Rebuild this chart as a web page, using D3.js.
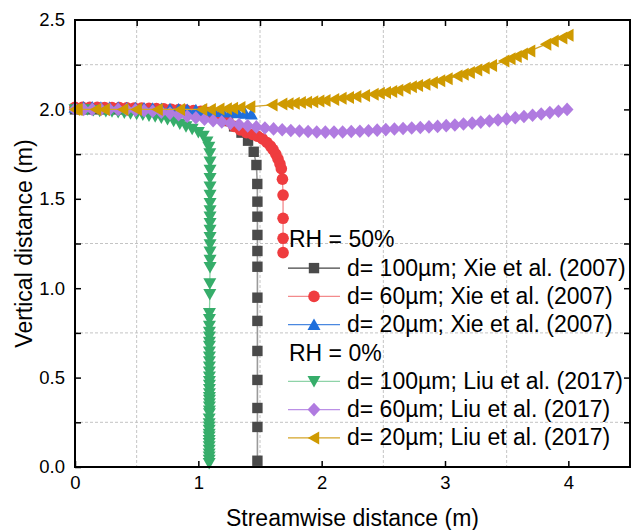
<!DOCTYPE html>
<html><head><meta charset="utf-8">
<script src="https://cdn.jsdelivr.net/npm/d3@7"></script>
<style>html,body{margin:0;padding:0;background:#fff;}svg{display:block;font-family:"Liberation Sans",Arial,sans-serif;}</style>
</head><body>
<svg id="c" width="631" height="530"></svg>
<script>
// ---- data ----
const xTicks = [0, 1, 2, 3, 4];
const yTicks = [0.0, 0.5, 1.0, 1.5, 2.0, 2.5];
const xGrid = [0.5, 1.5, 2.5, 3.5];
const yGrid = [0.25, 0.75, 1.25, 1.75, 2.25];
const xTopTicks = [0.5, 1, 1.5, 2, 2.5, 3, 3.5, 4];
const ySideTicks = [0.25, 0.5, 0.75, 1, 1.25, 1.5, 1.75, 2, 2.25];

const xie100 = [[0,2.0],[0.1,2.0],[0.2,2.0],[0.3,2.0],[0.4,2.0],[0.5,1.998],[0.6,1.996],[0.7,1.994],[0.8,1.99],[0.9,1.986],[1.0,1.98],[1.1,1.97],[1.18,1.955],[1.24,1.935],[1.29,1.905],[1.35,1.87],[1.403,1.825],[1.449,1.763],[1.471,1.689],[1.478,1.583],[1.479,1.484],[1.479,1.4],[1.479,1.298],[1.479,1.208],[1.479,1.12],[1.479,0.947],[1.479,0.817],[1.479,0.649],[1.479,0.487],[1.479,0.33],[1.479,0.224],[1.479,0.035]];
const xie60 = [[0,2.012],[0.06,2.012],[0.12,2.012],[0.18,2.012],[0.24,2.011],[0.3,2.01],[0.36,2.01],[0.42,2.009],[0.48,2.008],[0.54,2.007],[0.6,2.006],[0.66,2.005],[0.72,2.003],[0.78,2.001],[0.84,1.999],[0.9,1.996],[0.96,1.993],[1.02,1.989],[1.08,1.982],[1.14,1.972],[1.19,1.958],[1.24,1.935],[1.29,1.905],[1.34,1.885],[1.39,1.87],[1.44,1.86],[1.48,1.85],[1.52,1.835],[1.557,1.815],[1.585,1.795],[1.606,1.775],[1.628,1.75],[1.646,1.723],[1.662,1.695],[1.673,1.668],[1.682,1.61],[1.687,1.521],[1.687,1.391],[1.687,1.279],[1.687,1.199]];
const xie20 = [[0,2.01],[0.07,2.012],[0.14,2.012],[0.21,2.01],[0.28,2.01],[0.35,2.01],[0.42,2.008],[0.49,2.008],[0.56,2.006],[0.63,2.005],[0.7,2.003],[0.77,2.002],[0.84,2.0],[0.91,1.998],[0.98,1.996],[1.05,1.994],[1.12,1.99],[1.19,1.987],[1.26,1.984],[1.32,1.98],[1.38,1.977],[1.43,1.972]];
const liu100 = [[0,2.0],[0.05,2.0],[0.1,2.0],[0.15,1.995],[0.2,1.992],[0.25,1.99],[0.3,1.988],[0.35,1.985],[0.4,1.982],[0.45,1.978],[0.5,1.974],[0.55,1.97],[0.6,1.965],[0.65,1.96],[0.7,1.953],[0.75,1.945],[0.8,1.935],[0.85,1.92],[0.9,1.905],[0.95,1.89],[1.0,1.872],[1.04,1.852],[1.07,1.82],[1.085,1.79],[1.093,1.754],[1.095,1.707],[1.095,1.661],[1.095,1.615],[1.095,1.568],[1.095,1.522],[1.095,1.475],[1.095,1.435],[1.095,1.4],[1.095,1.363],[1.095,1.326],[1.095,1.285],[1.095,1.245],[1.095,1.204],[1.095,1.158],[1.095,1.117],[1.093,1.027],[1.093,0.966],[1.09,0.86],[1.09,0.826],[1.09,0.789],[1.09,0.755],[1.09,0.729],[1.09,0.7],[1.09,0.677],[1.09,0.645],[1.09,0.617],[1.09,0.59],[1.09,0.561],[1.09,0.533],[1.09,0.505],[1.09,0.48],[1.09,0.459],[1.09,0.435],[1.09,0.412],[1.09,0.39],[1.09,0.375],[1.09,0.355],[1.09,0.337],[1.09,0.315],[1.09,0.3],[1.088,0.27],[1.088,0.244],[1.088,0.225],[1.088,0.207],[1.088,0.185],[1.088,0.169],[1.088,0.15],[1.088,0.133],[1.088,0.115],[1.088,0.095],[1.088,0.075],[1.088,0.058],[1.088,0.04],[1.088,0.021]];
const liu60 = [[0,2.0],[0.07,2.0],[0.14,2.0],[0.21,2.0],[0.28,2.0],[0.35,2.0],[0.42,1.998],[0.49,1.996],[0.56,1.993],[0.63,1.99],[0.7,1.985],[0.77,1.978],[0.84,1.97],[0.91,1.962],[0.98,1.953],[1.05,1.945],[1.12,1.937],[1.19,1.93],[1.26,1.922],[1.33,1.915],[1.4,1.908],[1.47,1.902],[1.54,1.896],[1.61,1.891],[1.68,1.886],[1.75,1.882],[1.82,1.879],[1.89,1.876],[1.96,1.874],[2.03,1.873],[2.1,1.873],[2.17,1.874],[2.24,1.876],[2.31,1.878],[2.38,1.881],[2.45,1.884],[2.52,1.887],[2.59,1.89],[2.66,1.893],[2.73,1.896],[2.8,1.899],[2.87,1.902],[2.94,1.905],[3.01,1.909],[3.08,1.913],[3.15,1.918],[3.22,1.923],[3.29,1.929],[3.36,1.935],[3.43,1.941],[3.5,1.947],[3.57,1.953],[3.64,1.96],[3.71,1.967],[3.78,1.974],[3.85,1.982],[3.92,1.99],[3.99,2.0]];
const liu20 = [[0,2.0],[0.02,2.0],[0.17,2.0],[0.24,2.0],[0.39,2.0],[0.5,2.0],[0.67,2.0],[0.85,2.0],[1.03,2.0],[1.1,2.0],[1.17,2.002],[1.23,2.004],[1.28,2.006],[1.34,2.01],[1.42,2.015],[1.6,2.025],[1.68,2.03],[1.73,2.032],[1.78,2.035],[1.83,2.038],[1.88,2.04],[1.93,2.043],[1.98,2.047],[2.03,2.05],[2.1,2.056],[2.16,2.062],[2.22,2.067],[2.28,2.072],[2.35,2.078],[2.42,2.085],[2.47,2.09],[2.52,2.095],[2.57,2.1],[2.62,2.107],[2.68,2.118],[2.73,2.126],[2.78,2.133],[2.84,2.141],[2.9,2.15],[2.96,2.16],[3.02,2.171],[3.1,2.187],[3.15,2.197],[3.2,2.207],[3.26,2.22],[3.32,2.232],[3.38,2.245],[3.48,2.27],[3.53,2.283],[3.58,2.296],[3.63,2.31],[3.69,2.327],[3.82,2.365],[3.88,2.382],[3.95,2.4],[4.0,2.415]];

const seriesNames = ["d= 100\u00b5m; Xie et al. (2007)","d= 60\u00b5m; Xie et al. (2007)","d= 20\u00b5m; Xie et al. (2007)","d= 100\u00b5m; Liu et al. (2017)","d= 60\u00b5m; Liu et al. (2017)","d= 20\u00b5m; Liu et al. (2017)"];
const groupTitles = ["RH = 50%","RH = 0%"];

// ---- styles ----
const series = [
  {data:xie100, name:seriesNames[0], fill:"#4a4a4a", line:"#9a9a9a", lw:1.6, legLine:"#444444", sym:"square"},
  {data:xie60,  name:seriesNames[1], fill:"#ef3c3f", line:"#f38a8c", lw:1.3, legLine:"#f38a8c", sym:"circle"},
  {data:xie20,  name:seriesNames[2], fill:"#1f6fdc", line:"#4a88e0", lw:1.3, legLine:"#4a88e0", sym:"up"},
  {data:liu100, name:seriesNames[3], fill:"#36ad6a", line:"#8ed3a8", lw:1.3, legLine:"#8ed3a8", sym:"down"},
  {data:liu60,  name:seriesNames[4], fill:"#b07be0", line:"#bb90e6", lw:1.3, legLine:"#bb90e6", sym:"diamond"},
  {data:liu20,  name:seriesNames[5], fill:"#cf9a00", line:"#d4a427", lw:1.3, legLine:"#d4a427", sym:"left"}
];
const symPath = {
  square: "M-5.2,-5.2h10.4v10.4h-10.4Z",
  up: "M0,-6.3L6.5,5.2L-6.5,5.2Z",
  down: "M0,6.3L6.5,-5.2L-6.5,-5.2Z",
  left: "M-6.3,0L5.2,-6.5L5.2,6.5Z",
  diamond: "M0,-6.8L6.4,0L0,6.8L-6.4,0Z"
};

const svg = d3.select("#c");
const L = 75, R = 630, T = 20, B = 467;
const x = d3.scaleLinear().domain([0, 4.5]).range([L, R]);
const y = d3.scaleLinear().domain([0, 2.5]).range([B, T]);

// grid
const g = svg.append("g");
g.selectAll(".gx").data(xGrid).join("line")
  .attr("x1", d => x(d)).attr("x2", d => x(d)).attr("y1", T).attr("y2", B)
  .attr("stroke", "#c4c4c4").attr("stroke-width", 1).attr("stroke-dasharray", "3,2");
g.selectAll(".gy").data(yGrid).join("line")
  .attr("y1", d => y(d)).attr("y2", d => y(d)).attr("x1", L).attr("x2", R)
  .attr("stroke", "#c4c4c4").attr("stroke-width", 1).attr("stroke-dasharray", "3,2");

// axes via d3 axis generators
const fmtY = d3.format(".1f");
const axB = svg.append("g").attr("transform", `translate(0,${B})`)
  .call(d3.axisBottom(x).tickValues(xTicks).tickSize(-6).tickPadding(9).tickFormat(d3.format("d")));
const axT = svg.append("g").attr("transform", `translate(0,${T})`)
  .call(d3.axisTop(x).tickValues(xTopTicks).tickSize(-6).tickFormat(""));
const axL = svg.append("g").attr("transform", `translate(${L},0)`)
  .call(d3.axisLeft(y).tickValues(ySideTicks.concat([0])).tickSize(-6).tickPadding(10)
    .tickFormat(d => yTicks.includes(d) ? fmtY(d) : ""));
const axLab = svg.append("g").attr("transform", `translate(${L},0)`)
  .call(d3.axisLeft(y).tickValues([2.5]).tickSize(0).tickPadding(10).tickFormat(fmtY));
const axR = svg.append("g").attr("transform", `translate(${R},0)`)
  .call(d3.axisRight(y).tickValues(ySideTicks).tickSize(-6).tickFormat(""));
[axB, axT, axL, axLab, axR].forEach(a => {
  a.select(".domain").remove();
  a.selectAll("line").attr("stroke", "#000").attr("stroke-width", 1.5);
  a.selectAll("text").attr("fill", "#000").style("font-size", "18.5px")
    .style("font-family", '"Liberation Sans", Arial, sans-serif');
});

// series
const lineGen = d3.line().x(d => x(d[0])).y(d => y(d[1]));
const plot = svg.append("g");
series.forEach(s => {
  const sg = plot.append("g");
  sg.append("path").attr("d", lineGen(s.data)).attr("fill", "none")
    .attr("stroke", s.line).attr("stroke-width", s.lw);
  const m = sg.selectAll("g").data(s.data).join("g")
    .attr("transform", d => `translate(${x(d[0])},${y(d[1])})`);
  if (s.sym === "circle") m.append("circle").attr("r", 5.8).attr("fill", s.fill);
  else m.append("path").attr("d", symPath[s.sym]).attr("fill", s.fill);
});

// frame
svg.append("rect").attr("x", L).attr("y", T).attr("width", R - L).attr("height", B - T)
  .attr("fill", "none").attr("stroke", "#000").attr("stroke-width", 2);

// axis titles
svg.append("text").attr("x", (L + R) / 2).attr("y", 526).attr("text-anchor", "middle")
  .style("font-size", "23px").text("Streamwise distance (m)");
svg.append("text").attr("transform", `translate(32,${(T + B) / 2}) rotate(-90)`)
  .attr("text-anchor", "middle").style("font-size", "23px").text("Vertical distance (m)");

// legend
const leg = svg.append("g");
const rowBase = [247.3, 275.6, 303.9, 332.2, 360.5, 388.8, 417.1, 445.4];
const rows = [
  {title: groupTitles[0]}, {s: series[0]}, {s: series[1]}, {s: series[2]},
  {title: groupTitles[1]}, {s: series[3]}, {s: series[4]}, {s: series[5]}
];
rows.forEach((r, i) => {
  const by = rowBase[i];
  if (r.title) {
    leg.append("text").attr("x", 289).attr("y", by).style("font-size", "23px").text(r.title);
  } else {
    const cy = by - 7.5;
    leg.append("line").attr("x1", 288).attr("x2", 340).attr("y1", cy).attr("y2", cy)
      .attr("stroke", r.s.legLine).attr("stroke-width", 1.3);
    const mg = leg.append("g").attr("transform", `translate(314,${cy})`);
    if (r.s.sym === "circle") mg.append("circle").attr("r", 5.8).attr("fill", r.s.fill);
    else mg.append("path").attr("d", symPath[r.s.sym]).attr("fill", r.s.fill);
    leg.append("text").attr("x", 347).attr("y", by).style("font-size", "23px").text(r.s.name);
  }
});
</script>
</body></html>
